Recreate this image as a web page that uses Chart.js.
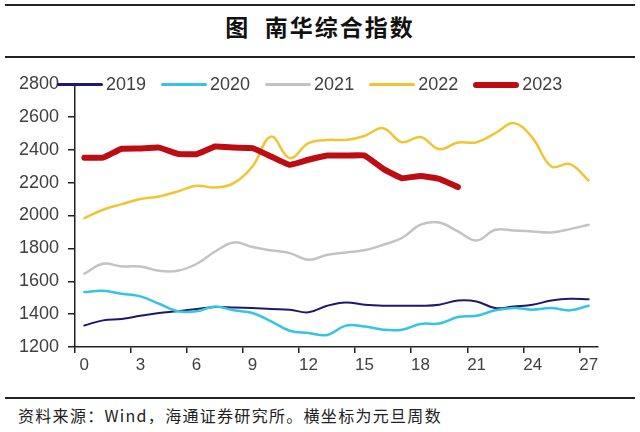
<!DOCTYPE html>
<html>
<head>
<meta charset="utf-8">
<script src="https://cdn.jsdelivr.net/npm/chart.js@4/dist/chart.umd.min.js"></script>
<style>
  body{margin:0;background:#fff;width:640px;height:432px;overflow:hidden;position:relative;font-family:"Liberation Sans",Arial,sans-serif;}
  .rule{position:absolute;left:5px;width:630px;height:2px;background:#222;}
  #title{position:absolute;left:0;top:9px;width:640px;text-align:center;font:bold 23px "Noto Sans CJK SC",sans-serif;letter-spacing:2px;color:#111;white-space:pre;}
  #chart-box{position:absolute;left:0;top:64px;width:610px;height:323px;}
  #legend{position:absolute;left:57px;top:74px;display:flex;align-items:center;font-size:18px;color:#404040;}
  #legend .item{display:flex;align-items:center;margin-right:15px;}
  #legend .swatch{width:46px;margin-right:3px;border-radius:3px;}
  #source{position:absolute;left:18px;top:403px;font:16px "Noto Sans CJK SC",sans-serif;color:#222;letter-spacing:1.3px;}
</style>
</head>
<body>
<div class="rule" style="top:4px"></div>
<div id="title">图  南华综合指数</div>
<div class="rule" style="top:56px"></div>
<div id="chart-box"><canvas id="myChart"></canvas></div>
<div id="legend"></div>
<div class="rule" style="top:397px"></div>
<div id="source">资料来源：Wind，海通证券研究所。横坐标为元旦周数</div>
<script>
// weeks since new year
var weeks = [];
for(let i=0; i<=27; i++){ weeks.push(String(i)); }

var yTicks = [1200,1400,1600,1800,2000,2200,2400,2600,2800];

var years = ['2019','2020','2021','2022','2023'];

var data2019 = [1331,1362,1370,1390,1407,1417,1431,1443,1441,1437,1431,1427,1411,1451,
                1471,1457,1451,1451,1451,1457,1483,1477,1437,1447,1457,1483,1494,1490];
var data2020 = [1534,1542,1524,1508,1463,1417,1417,1447,1423,1407,1356,1299,1285,1273,
                1330,1325,1305,1305,1340,1343,1382,1390,1423,1437,1427,1437,1423,1451];
var data2021 = [1646,1706,1690,1690,1664,1664,1705,1781,1836,1808,1788,1771,1731,1761,
                1775,1788,1822,1863,1944,1958,1903,1848,1913,1909,1903,1897,1917,1944];
var data2022 = [1984,2035,2069,2100,2116,2146,2181,2170,2197,2298,2480,2349,2440,2460,
                2460,2484,2531,2446,2477,2404,2444,2446,2501,2562,2471,2298,2313,2213];
var data2023 = [2352,2352,2406,2408,2413,2375,2373,2420,2413,2410,2359,2308,2339,2365,
                2365,2365,2284,2227,2241,2223,2173];

var seriesData = [data2019, data2020, data2021, data2022, data2023];
var colors = ['#1c1a6b','#35c4e4','#c3c3c3','#efc534','#bd0d12'];
var widths = [2, 2.5, 2.5, 2.5, 6];

// legend
var legendHtml = '';
for(let i=0; i<years.length; i++){
    legendHtml += '<div class="item"><div class="swatch" style="height:' + Math.max(widths[i],2.5) + 'px;background:' + colors[i] + '"></div>'
        + '<span>' + years[i] + '</span></div>';
}
document.getElementById('legend').innerHTML = legendHtml;

var datasets = [];
for(let i=0; i<years.length; i++){
    datasets.push({
        label: years[i],
        data: seriesData[i],
        borderColor: colors[i],
        backgroundColor: colors[i],
        borderWidth: widths[i],
        pointRadius: 0,
        tension: i === 4 ? 0.1 : 0.4,
        borderCapStyle: 'round',
        borderJoinStyle: 'round',
        order: years.length - i
    });
}

var axisColor = '#222';
var ctx = document.getElementById('myChart').getContext('2d');
var myChart = new Chart(ctx, {
    type: 'line',
    data: {
        labels: weeks,
        datasets: datasets
    },
    options: {
        responsive: true,
        maintainAspectRatio: false,
        animation: false,
        layout: { padding: { top: 20, right: 12, bottom: 0, left: 0 } },
        plugins: {
            legend: { display: false },
            tooltip: { enabled: false }
        },
        scales: {
            x: {
                type: 'category',
                offset: true,
                grid: {
                    offset: true,
                    drawOnChartArea: false,
                    tickLength: 6,
                    lineWidth: 1.5,
                    color: function(c){ return c.index % 3 === 0 ? axisColor : 'rgba(0,0,0,0)'; }
                },
                border: { display: true, color: axisColor, width: 1.5 },
                ticks: {
                    autoSkip: false,
                    maxRotation: 0,
                    padding: 2,
                    color: '#404040',
                    font: { family: '"Liberation Sans", Arial, sans-serif', size: 17 },
                    callback: function(val, idx){ return idx % 3 === 0 ? weeks[idx] : ''; }
                },
                afterFit: function(scale){ scale.height = 40; }
            },
            y: {
                min: yTicks[0],
                max: yTicks[yTicks.length - 1],
                afterBuildTicks: function(scale){
                    scale.ticks = yTicks.map(v => ({ value: v }));
                },
                grid: {
                    drawOnChartArea: false,
                    tickLength: 7,
                    lineWidth: 1.5,
                    color: axisColor
                },
                border: { display: true, color: axisColor, width: 1.5 },
                ticks: {
                    padding: 9,
                    color: '#404040',
                    font: { family: '"Liberation Sans", Arial, sans-serif', size: 18 },
                    callback: function(val){ return String(val); }
                },
                afterFit: function(scale){ scale.width = 75; }
            }
        }
    }
});
</script>
</body>
</html>
